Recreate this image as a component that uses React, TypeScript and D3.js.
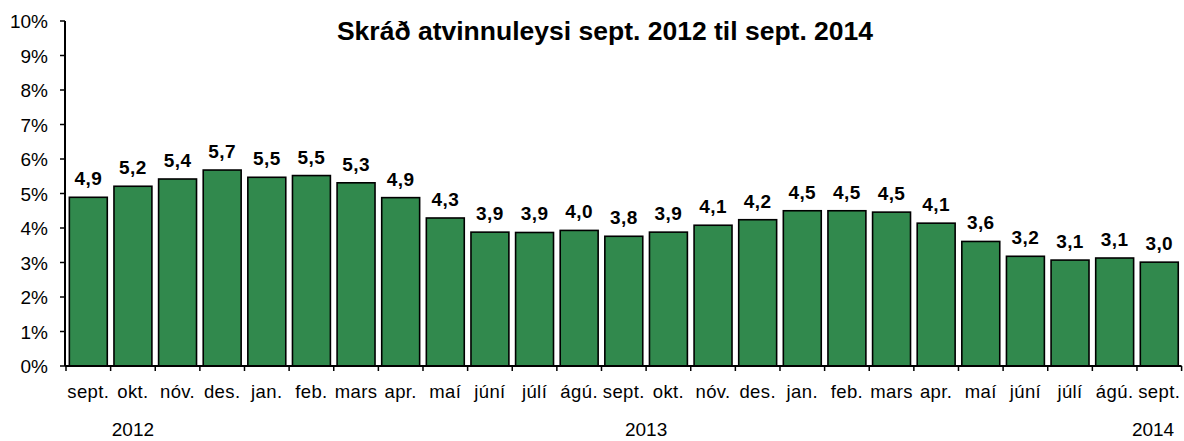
import React from "react";
import * as d3 from "d3";

const months = ["sept.", "okt.", "nóv.", "des.", "jan.", "feb.", "mars", "apr.", "maí", "júní", "júlí", "ágú.", "sept.", "okt.", "nóv.", "des.", "jan.", "feb.", "mars", "apr.", "maí", "júní", "júlí", "ágú.", "sept."];
const values = [4.89, 5.21, 5.42, 5.68, 5.47, 5.52, 5.31, 4.88, 4.29, 3.88, 3.87, 3.93, 3.76, 3.88, 4.08, 4.24, 4.5, 4.5, 4.46, 4.14, 3.61, 3.18, 3.07, 3.13, 3.01];
const valueLabels = ["4,9", "5,2", "5,4", "5,7", "5,5", "5,5", "5,3", "4,9", "4,3", "3,9", "3,9", "4,0", "3,8", "3,9", "4,1", "4,2", "4,5", "4,5", "4,5", "4,1", "3,6", "3,2", "3,1", "3,1", "3,0"];
const yTicks = [0, 1, 2, 3, 4, 5, 6, 7, 8, 9, 10];
const years = ["2012", "2013", "2014"];
const yearPos = [1.5, 13.0, 24.36];
const title = "Skráð atvinnuleysi sept. 2012 til sept. 2014";

export default function App() {
  const W = 1184, H = 441;
  const x0 = 66, x1 = 1181.6, yTop = 21, yBase = 366;
  const idx = months.map((_, i) => i);
  const x = d3.scaleBand<number>().domain(idx).range([x0, x1]).paddingInner(0.15).paddingOuter(0.075);
  const y = d3.scaleLinear().domain([0, 10]).range([yBase, yTop]);
  const step = x.step();
  const font = "Arial, 'Liberation Sans', sans-serif";
  return (
    <svg width={W} height={H} style={{ position: "absolute", left: 0, top: 0, background: "#fff" }} fontFamily={font}>
      <text x={605} y={40} textAnchor="middle" fontWeight="bold" fontSize={26.5} fill="#000">{title}</text>
      {months.map((m, i) => (
        <g key={i}>
          <rect x={x(i)} y={y(values[i])} width={x.bandwidth()} height={yBase - y(values[i])} fill="#31894d" stroke="#000" strokeWidth={1.6} />
          <text x={(x(i) as number) + x.bandwidth() / 2} y={y(values[i]) - 12} textAnchor="middle" fontWeight="bold" fontSize={19} letterSpacing={0.4} fill="#000">{valueLabels[i]}</text>
          <text x={(x(i) as number) + x.bandwidth() / 2} y={398} textAnchor="middle" fontSize={18.5} letterSpacing={0.4} fill="#000">{m}</text>
        </g>
      ))}
      <line x1={x0 - 1} x2={x0 - 1} y1={yTop} y2={yBase} stroke="#000" strokeWidth={2} />
      {yTicks.map((t) => (
        <g key={t}>
          <line x1={x0 - 6} x2={x0 - 1} y1={y(t)} y2={y(t)} stroke="#000" strokeWidth={1.5} />
          <text x={48} y={y(t) + 7} textAnchor="end" fontSize={19} fill="#000">{t + "%"}</text>
        </g>
      ))}
      <line x1={x0 - 1} x2={x1} y1={yBase} y2={yBase} stroke="#000" strokeWidth={2} />
      {d3.range(months.length + 1).map((i) => (
        <line key={i} x1={x0 + i * step} x2={x0 + i * step} y1={yBase} y2={yBase + 5} stroke="#000" strokeWidth={1.5} />
      ))}
      {years.map((yr, i) => (
        <text key={yr} x={x0 + yearPos[i] * step} y={436} textAnchor="middle" fontSize={19} fill="#000">{yr}</text>
      ))}
    </svg>
  );
}
